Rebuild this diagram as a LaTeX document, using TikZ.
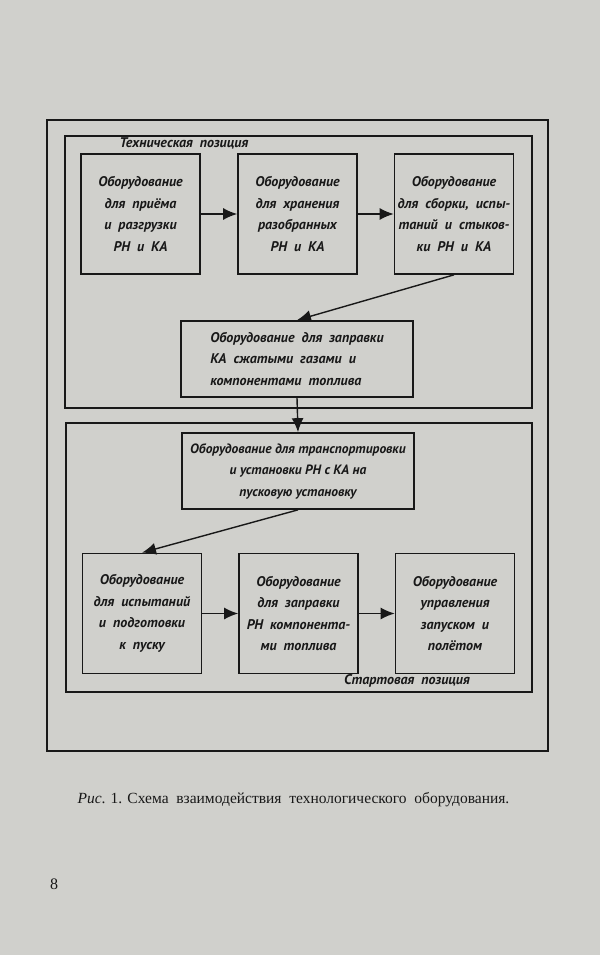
\documentclass[tikz,border=0pt]{standalone}
\usepackage{fontspec}
\setmainfont{Liberation Serif}
\newfontfamily\drawfont{PT Sans}
\usetikzlibrary{arrows.meta}
\definecolor{paper}{RGB}{208,208,204}
\definecolor{ink}{RGB}{24,24,24}
\newcommand\widespace{\spaceskip=0.5em plus 0.2em\relax}

\begin{document}
\begin{tikzpicture}[x=1pt, y=-1pt,
    box/.style={draw=ink, line width=1.7pt, minimum width=119pt, minimum height=120pt,
        align=center, inner sep=2pt, text=ink,
        font=\drawfont\bfseries\itshape\fontsize{14}{21.5}\selectfont\widespace},
    widebox/.style={box, minimum width=232pt, minimum height=76pt},
    zone/.style={draw=ink, line width=1.6pt},
    lbl/.style={text=ink, font=\drawfont\bfseries\itshape\fontsize{14}{15}\selectfont\widespace},
    flow/.style={draw=ink, line width=1.4pt, -{Latex[length=14pt, width=12pt]}}]
\fill[paper] (0,0) rectangle (600,955);
\useasboundingbox (0,0) rectangle (600,955);
\draw[zone, line width=1.9pt] (47,120) rectangle (548,751);
\draw[zone] (65,136) rectangle (532,408);
\draw[zone] (66,423) rectangle (532,692);
\node[lbl] (tech) at (184,143) {Техническая позиция};
\node[lbl] (start) at (407,681) {Стартовая позиция};

\node[box] (rcv) at (140.5,214) {Оборудование\\для приёма\\и разгрузки\\РН и КА};
\node[box] (store) at (297.5,214) {Оборудование\\для хранения\\разобранных\\РН и КА};
\node[box] (assy) at (454,214) {Оборудование\\для сборки, испы-\\таний и стыков-\\ки РН и КА};
\node[widebox, align=left] (fuelka) at (297,359) {Оборудование для заправки\\КА сжатыми газами и\\компонентами топлива};
\node[widebox, font=\drawfont\bfseries\itshape\fontsize{13.5}{21.5}\selectfont] (transp) at (298,471)
    {Оборудование для транспортировки\\и установки РН с КА на\\пусковую установку};
\node[box] (test) at (142,613.5) {Оборудование\\для испытаний\\и подготовки\\к пуску};
\node[box] (fuelrn) at (298.5,613.5) {Оборудование\\для заправки\\РН компонента-\\ми топлива};
\node[box] (ctrl) at (455,613.5) {Оборудование\\управления\\запуском и\\полётом};

\draw[flow] (rcv) -- (store);
\draw[flow] (store) -- (assy);
\draw[flow] (assy.south) -- (fuelka.north);
\draw[flow] (fuelka.south) -- (transp.north);
\draw[flow] (transp.south) -- (test.north);
\draw[flow] (test) -- (fuelrn);
\draw[flow] (fuelrn) -- (ctrl);

\node[anchor=west, text=ink, font=\fontsize{15.5}{18}\selectfont] (caption) at (74,800)
    {\textit{Рис}. 1. Схема\ \ взаимодействия\ \ технологического\ \ оборудования.};
\node[text=ink, font=\fontsize{16}{18}\selectfont] (page) at (54,884) {8};
\end{tikzpicture}
\end{document}
